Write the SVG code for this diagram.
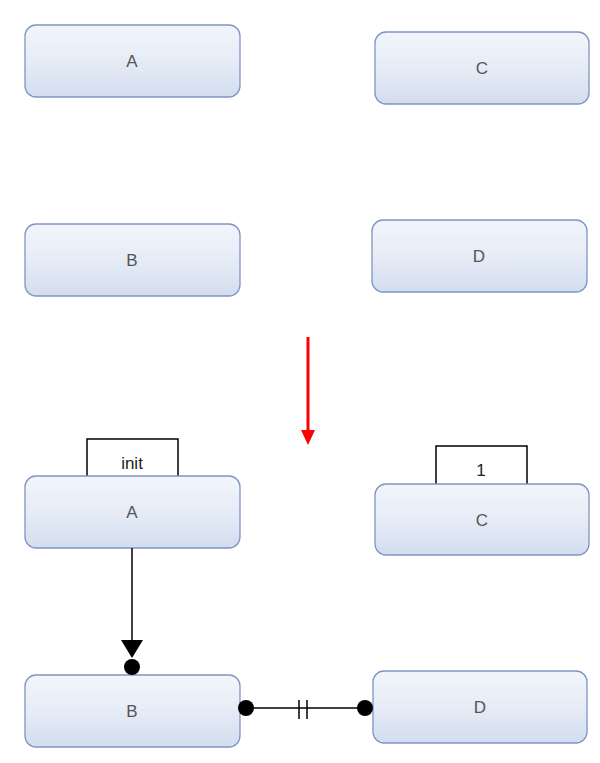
<svg xmlns="http://www.w3.org/2000/svg" width="600" height="763" viewBox="0 0 600 763">
<defs>
<linearGradient id="g" x1="0" y1="0" x2="0" y2="1">
<stop offset="0" stop-color="#f2f5fb"/>
<stop offset="0.5" stop-color="#e6ecf6"/>
<stop offset="1" stop-color="#d3ddef"/>
</linearGradient>
</defs>
<style>
.n{fill:url(#g);stroke:#7f95c4;stroke-width:1.3}
.t{font-family:"Liberation Sans",Arial,sans-serif;font-size:17px;fill:#555;text-anchor:middle;dominant-baseline:central}
.lb{fill:#fff;stroke:#000;stroke-width:1.5}
.lt{font-family:"Liberation Sans",Arial,sans-serif;font-size:17px;fill:#222;text-anchor:middle;dominant-baseline:central}
.c{stroke:#000;stroke-width:1.5;fill:none}
</style>
<rect width="600" height="763" fill="#fff"/>
<g id="A1"><rect class="n" x="25" y="25" width="215" height="72" rx="11"/><text class="t" x="132" y="61">A</text></g>
<g id="C1"><rect class="n" x="375" y="32" width="214" height="72" rx="11"/><text class="t" x="482" y="68">C</text></g>
<g id="B1"><rect class="n" x="25" y="224" width="215" height="72" rx="11"/><text class="t" x="132" y="260">B</text></g>
<g id="D1"><rect class="n" x="372" y="220" width="215" height="72" rx="11"/><text class="t" x="479" y="256">D</text></g>
<g id="arrow"><line x1="308" y1="337" x2="308" y2="432" stroke="#ff0000" stroke-width="3"/><path d="M301,430 L315,430 L308,445 z" fill="#ff0000"/></g>
<g id="initLabel"><rect class="lb" x="87" y="439" width="91" height="40"/><text class="lt" x="132" y="463">init</text></g>
<g id="oneLabel"><rect class="lb" x="436" y="446" width="91" height="42"/><text class="lt" x="481" y="470">1</text></g>
<g id="A2"><rect class="n" x="25" y="476" width="215" height="72" rx="11"/><text class="t" x="132" y="512">A</text></g>
<g id="C2"><rect class="n" x="375" y="484" width="214" height="71" rx="11"/><text class="t" x="482" y="520">C</text></g>
<g id="B2"><rect class="n" x="25" y="675" width="215" height="72" rx="11"/><text class="t" x="132" y="711">B</text></g>
<g id="D2"><rect class="n" x="373" y="671" width="214" height="72" rx="11"/><text class="t" x="480" y="707">D</text></g>
<g id="connectors">
<line class="c" x1="132" y1="548" x2="132" y2="642"/>
<path d="M121,640 L143,640 L132,658 z" fill="#000"/>
<circle cx="132" cy="667" r="8" fill="#000"/>
<line class="c" x1="246" y1="708" x2="365" y2="708"/>
<line class="c" x1="299" y1="700" x2="299" y2="719"/>
<line class="c" x1="307" y1="700" x2="307" y2="719"/>
<circle cx="246" cy="708" r="8" fill="#000"/>
<circle cx="365" cy="708" r="8" fill="#000"/>
</g>
</svg>
